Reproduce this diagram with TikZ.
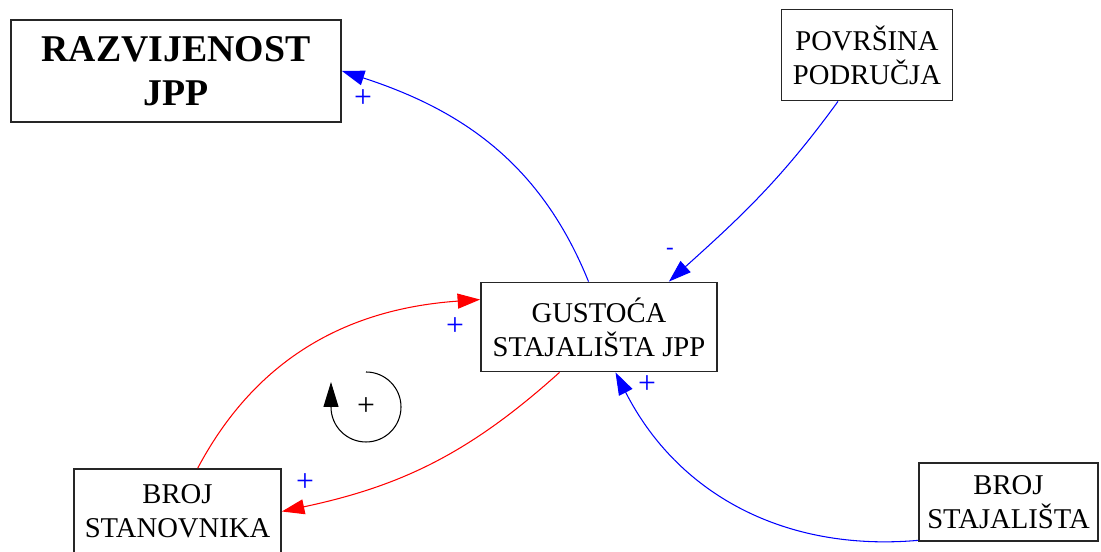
\documentclass[tikz,border=0pt]{standalone}
\usepackage{fontspec}
\setmainfont{Liberation Serif}
\usetikzlibrary{arrows.meta}
\begin{document}
\begin{tikzpicture}[
  var/.style={rectangle, draw=black!85, line width=1pt, align=center, inner sep=2pt},
  tekst/.style={font=\fontsize{16.3}{19.5}\selectfont},
  veza/.style={line width=0.6pt, arrows={-Triangle[length=0.45cm,width=0.3cm]}},
  znak/.style={blue, inner sep=0pt, font=\fontsize{18}{20}\selectfont}
]
\useasboundingbox (0,0) rectangle (22.02,11.04);

% Varijable
\node[var, minimum width=6.6cm, minimum height=2.04cm, font=\bfseries\fontsize{21.5}{25}\selectfont] (RAZ) at (3.52,9.62) {RAZVIJENOST\\JPP};
\node[var, tekst, minimum width=3.42cm, minimum height=1.82cm] (POV) at (17.34,9.94) {POVRŠINA\\PODRUČJA};
\node[var, tekst, minimum width=4.72cm, minimum height=1.78cm] (GUS) at (11.98,4.50) {GUSTOĆA\\STAJALIŠTA JPP};
\node[var, tekst, minimum width=4.14cm, minimum height=1.70cm] (STAN) at (3.55,0.81) {BROJ\\STANOVNIKA};
\node[var, tekst, minimum width=3.58cm, minimum height=1.56cm] (STAJ) at (20.17,1.00) {BROJ\\STAJALIŠTA};

% Veze plave
\draw[veza, blue] (GUS.103) to[out=112, in=-18] (RAZ.east);
\draw[veza, blue] (POV.238) to[out=234, in=42] (GUS.33);
\draw[veza, blue] (STAJ.203) to[out=185, in=297] (GUS.-70);

% Veze crvene
\draw[veza, red] (STAN.65) to[out=62, in=184] (GUS.167);
\draw[veza, red] (GUS.229) to[out=222, in=12] (STAN.east);

% Predznaci
\node[znak] (Z1) at (7.26,9.06) {+};
\node[znak, font=\fontsize{13}{15}\selectfont] (Z2) at (13.40,6.02) {-};
\node[znak] (Z3) at (9.10,4.50) {+};
\node[znak] (Z4) at (6.10,1.38) {+};
\node[znak] (Z5) at (12.94,3.34) {+};

% Petlja
\node[inner sep=0pt, font=\fontsize{18}{20}\selectfont] (PETLJA) at (7.32,2.90) {+};
\draw[line width=0.6pt, arrows={-Triangle[length=0.5cm,width=0.3cm]}]
  ([yshift=0.7cm]PETLJA.center) arc[start angle=90, end angle=-180, radius=0.7cm] -- ++(0,0.5);

\end{tikzpicture}
\end{document}
